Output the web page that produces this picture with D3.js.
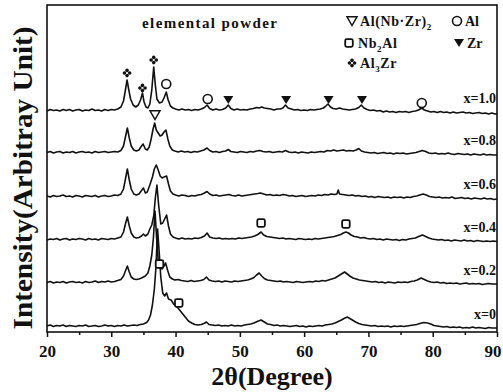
<!DOCTYPE html>
<html><head><meta charset="utf-8">
<script src="https://cdn.jsdelivr.net/npm/d3@7"></script>
<style>body{margin:0;background:#fff}svg{display:block}</style></head>
<body><svg id="c" width="503" height="392"></svg>
<script>
const xTicks=[20,30,40,50,60,70,80,90];
const xMinorTicks=[25,35,45,55,65,75,85];
const seriesLabels=["x=1.0","x=0.8","x=0.6","x=0.4","x=0.2","x=0"];
const seriesOffsets=[221,179,135,92,49,5];

const s10=[[20,0],[20.5,1.5],[21,0.5],[21.5,1],[22,0],[22.5,1.5],[23,0.5],[23.5,1.5],[24,0],[24.5,1],[25,1.5],[25.5,0],[26,1],[26.5,0.5],[27,2],[27.5,0.5],[28,1],[28.5,0],[29,1.5],[29.5,0.5],[30,1.5],[30.5,1],[31,2],[31.5,4],[31.9,10],[32.2,21],[32.45,31],[32.7,22],[33,12],[33.4,6],[33.8,4],[34.2,6],[34.55,11],[34.85,18],[35.1,9],[35.4,4],[35.7,3],[36,7],[36.3,21],[36.6,44],[36.85,26],[37.1,12],[37.5,8],[37.9,9],[38.2,13],[38.55,19],[38.85,11],[39.2,5],[39.6,3],[40,2],[40.5,1],[41,2],[41.5,1],[42,1.5],[42.5,0.5],[43,1.5],[43.5,1],[44,2],[44.5,3.5],[44.9,6],[45.3,2.5],[45.8,1],[46.3,2],[46.8,1],[47.3,1.5],[47.8,3],[48.2,6],[48.6,2.5],[49.1,1],[49.6,2],[50.1,1],[50.6,1.5],[51.1,1],[51.6,2],[52.1,2.5],[52.6,3.5],[53,3],[53.4,4],[53.8,3],[54.3,2.5],[54.8,2],[55.3,1],[55.8,2],[56.3,2],[56.7,3],[57.1,6],[57.5,3],[58,2],[58.5,1],[59,1.5],[59.5,0.5],[60,1],[60.5,0.5],[61,1.5],[61.5,1],[62,1.5],[62.5,2],[63,3],[63.3,4.5],[63.7,7],[64.1,4],[64.5,2.5],[65,2],[65.5,3],[66,2],[66.5,1.5],[67,1],[67.5,1.5],[68,2],[68.5,3.5],[68.9,6],[69.3,3],[69.8,1.5],[70.3,0.5],[70.8,1],[71.3,0],[71.8,0.5],[72.3,-1],[72.8,0],[73.3,-1],[73.8,-0.5],[74.3,-1.5],[74.8,-0.5],[75.3,-1],[75.8,-0.5],[76.3,-1.5],[76.8,-0.5],[77.3,0],[77.8,1],[78.3,3],[78.7,1],[79.2,0],[79.7,-1],[80.2,-0.5],[80.7,-1.5],[81.2,-0.5],[81.7,-1.5],[82.2,-1],[82.7,-2],[83.2,-1],[83.7,-2],[84.2,-1.5],[84.7,-1],[85.2,-2],[85.7,-1.5],[86.2,-2.5],[86.7,-2],[87.2,-1.5],[87.7,-2.5],[88.2,-2],[88.7,-3],[89.2,-2],[89.7,-3],[90,-2.5]];

const s08=[[20,0.5],[20.5,1.5],[21,0],[21.5,1],[22,1.5],[22.5,0],[23,1],[23.5,0.5],[24,1.5],[24.5,0],[25,1],[25.5,1.5],[26,0.5],[26.5,1],[27,0],[27.5,1.5],[28,0.5],[28.5,1],[29,1.5],[29.5,0.5],[30,1],[30.5,1.5],[31,1],[31.5,2.5],[31.9,7],[32.2,16],[32.5,25],[32.8,15],[33.1,7],[33.5,3],[33.9,2],[34.3,3],[34.6,6],[34.95,9],[35.3,4],[35.6,3],[35.9,6],[36.2,14],[36.5,24],[36.75,30],[37,23],[37.3,20],[37.6,17],[37.9,18],[38.2,21],[38.5,23],[38.8,14],[39.1,7],[39.5,3],[39.9,2],[40.4,1],[40.9,2],[41.4,1],[41.9,1.5],[42.4,0.5],[42.9,1.5],[43.4,1],[43.9,2],[44.4,3],[44.9,5],[45.3,2.5],[45.8,1],[46.3,1.5],[46.8,0.5],[47.3,1.5],[47.8,2],[48.2,3.5],[48.6,1.5],[49.1,1],[49.6,0.5],[50.1,1.5],[50.6,1],[51.1,0.5],[51.6,1.5],[52.1,1],[52.6,2],[53.1,2.5],[53.6,1.5],[54.1,1],[54.6,1.5],[55.1,0.5],[55.6,1],[56.1,1.5],[56.6,1],[57.1,2.5],[57.6,1],[58.1,0.5],[58.6,1],[59.1,0],[59.6,1],[60.1,0.5],[60.6,0],[61.1,1],[61.6,0.5],[62.1,1],[62.6,1.5],[63.1,1],[63.6,2.5],[64.1,2],[64.6,3],[65.1,2],[65.6,2.5],[66.1,3],[66.6,2],[67.1,2.5],[67.6,2],[68.1,3],[68.5,4.5],[68.9,2],[69.4,1],[69.9,0.5],[70.4,0],[70.9,0.5],[71.4,-0.5],[71.9,0],[72.4,0.5],[72.9,-0.5],[73.4,0],[73.9,-1],[74.4,0],[74.9,-0.5],[75.4,0],[75.9,-1],[76.4,-0.5],[76.9,0],[77.4,0.5],[77.9,1.5],[78.4,2.5],[78.9,1.5],[79.4,0],[79.9,-0.5],[80.4,0],[80.9,-1],[81.4,-0.5],[81.9,-1],[82.4,0],[82.9,-1],[83.4,-1.5],[83.9,-0.5],[84.4,-1],[84.9,-1.5],[85.4,-1],[85.9,-2],[86.4,-1],[86.9,-1.5],[87.4,-2],[87.9,-1],[88.4,-2],[88.9,-1.5],[89.4,-2],[90,-2]];

const s06=[[20,1],[20.5,0],[21,1.5],[21.5,0.5],[22,1],[22.5,2],[23,0.5],[23.5,1],[24,0],[24.5,1.5],[25,1],[25.5,0],[26,1.5],[26.5,1],[27,0.5],[27.5,1.5],[28,0],[28.5,1],[29,1.5],[29.5,0.5],[30,1],[30.5,2],[31,1.5],[31.5,3],[31.9,8],[32.2,18],[32.5,28],[32.8,17],[33.1,8],[33.5,3],[33.9,2],[34.3,3],[34.65,6],[35,9],[35.3,4],[35.6,5],[36,12],[36.4,20],[36.7,28],[37,32],[37.3,27],[37.6,21],[37.9,19],[38.2,20],[38.6,21],[38.9,13],[39.2,6],[39.6,3],[40,2],[40.5,1],[41,2],[41.5,1.5],[42,0.5],[42.5,1.5],[43,1],[43.5,2],[44,2.5],[44.5,4],[44.9,5.5],[45.3,3],[45.8,1.5],[46.3,2],[46.8,1],[47.3,1.5],[47.8,2],[48.3,2.5],[48.8,1.5],[49.3,1],[49.8,2],[50.3,1],[50.8,1.5],[51.3,2],[51.8,2.5],[52.3,3],[52.8,3.5],[53.2,4],[53.7,3],[54.2,2],[54.7,2.5],[55.2,1.5],[55.7,2],[56.2,1.5],[56.7,2.5],[57.2,2],[57.7,1],[58.2,1.5],[58.7,0.5],[59.2,1],[59.7,1.5],[60.2,0.5],[60.7,1],[61.2,1.5],[61.7,1],[62.2,2],[62.7,1.5],[63.2,2.5],[63.7,2],[64.2,3],[64.7,2.5],[65.1,3],[65.3,7],[65.5,3],[66,2.5],[66.5,2],[67,1.5],[67.5,2],[68,1],[68.5,1.5],[69,0.5],[69.5,1],[70,0],[70.5,0.5],[71,-0.5],[71.5,0.5],[72,0],[72.5,-0.5],[73,0],[73.5,-1],[74,0],[74.5,-0.5],[75,0],[75.5,-1],[76,0],[76.5,-0.5],[77,0.5],[77.5,1],[78,2],[78.5,3],[79,2],[79.5,0.5],[80,0],[80.5,-0.5],[81,0],[81.5,-1],[82,-0.5],[82.5,-1],[83,0],[83.5,-1.5],[84,-1],[84.5,-0.5],[85,-1.5],[85.5,-1],[86,-2],[86.5,-1],[87,-1.5],[87.5,-2],[88,-1],[88.5,-2],[89,-1.5],[89.5,-2.5],[90,-2]];

const s04=[[20,0],[20.5,1],[21,0.5],[21.5,1.5],[22,0],[22.5,1],[23,1.5],[23.5,0],[24,1],[24.5,0.5],[25,1.5],[25.5,1],[26,0],[26.5,1.5],[27,0.5],[27.5,1],[28,0],[28.5,1.5],[29,1],[29.5,0.5],[30,1.5],[30.5,1],[31,2],[31.5,3],[31.9,8],[32.2,16],[32.5,23],[32.8,14],[33.1,7],[33.5,3],[33.9,2],[34.3,2.5],[34.7,4],[35,6],[35.3,4],[35.7,6],[36,11],[36.3,15],[36.6,24],[36.85,42],[37.1,55],[37.35,36],[37.7,16],[38,17],[38.3,21],[38.6,25],[38.9,14],[39.2,6],[39.6,3],[40,2],[40.5,1],[41,2],[41.5,1],[42,1.5],[42.5,1],[43,2],[43.5,1.5],[44,2.5],[44.5,4],[44.9,7],[45.3,3],[45.8,2],[46.3,1.5],[46.8,2],[47.3,1],[47.8,1.5],[48.3,1],[48.8,1.5],[49.3,1],[49.8,2],[50.3,1.5],[50.8,2],[51.3,2.5],[51.8,3],[52.3,4],[52.8,5.5],[53.3,8],[53.7,5],[54.2,3.5],[54.7,3],[55.2,2.5],[55.7,2],[56.2,1.5],[56.7,2],[57.2,1],[57.7,1.5],[58.2,1],[58.7,0.5],[59.2,1.5],[59.7,1],[60.2,0.5],[60.7,1],[61.2,0.5],[61.7,1.5],[62.2,1],[62.7,1.5],[63.2,2],[63.7,2.5],[64.2,3],[64.7,3.5],[65.2,4.5],[65.7,5.5],[66.1,7],[66.5,8],[66.9,7],[67.3,5],[67.8,3.5],[68.3,3],[68.8,2],[69.3,2.5],[69.8,1.5],[70.3,1],[70.8,1.5],[71.3,0.5],[71.8,1],[72.3,0],[72.8,1],[73.3,0.5],[73.8,0],[74.3,0.5],[74.8,-0.5],[75.3,0.5],[75.8,0],[76.3,1],[76.8,1.5],[77.3,2],[77.8,3.5],[78.4,5],[78.9,3.5],[79.4,2],[79.9,1],[80.4,0.5],[80.9,0],[81.4,0.5],[81.9,-0.5],[82.4,0],[82.9,-1],[83.4,0],[83.9,-0.5],[84.4,-1],[84.9,0],[85.4,-1],[85.9,-0.5],[86.4,-1.5],[86.9,-0.5],[87.4,-1],[87.9,-1.5],[88.4,-1],[88.9,-1.5],[89.4,-1],[90,-1.5]];

const s02=[[20,0.5],[20.5,1.5],[21,0],[21.5,1],[22,0.5],[22.5,1.5],[23,0],[23.5,1],[24,1.5],[24.5,0.5],[25,1],[25.5,0],[26,1.5],[26.5,0.5],[27,1],[27.5,2],[28,0.5],[28.5,1.5],[29,1],[29.5,2],[30,1],[30.5,1.5],[31,2.5],[31.5,3.5],[31.9,7],[32.2,12],[32.5,17],[32.8,11],[33.1,6],[33.5,4],[33.9,3.5],[34.3,4],[34.7,5],[35,6],[35.3,7],[35.7,10],[36,17],[36.3,28],[36.55,45],[36.8,72],[37.05,45],[37.3,22],[37.6,15],[37.9,14],[38.2,17],[38.45,20],[38.8,12],[39.1,6],[39.5,4],[39.9,3],[40.4,3.5],[40.9,2.5],[41.4,2],[41.9,1.5],[42.4,2.5],[42.9,1.5],[43.4,2],[43.9,2.5],[44.4,3.5],[44.8,6],[45.2,3],[45.7,2],[46.2,1.5],[46.7,2],[47.2,1],[47.7,2],[48.2,1.5],[48.7,1],[49.2,2],[49.7,1.5],[50.2,2],[50.7,2.5],[51.2,3],[51.7,4],[52.2,5.5],[52.6,8],[53,10],[53.4,7],[53.8,4.5],[54.3,3],[54.8,2.5],[55.3,2],[55.8,1.5],[56.3,2],[56.8,1],[57.3,1.5],[57.8,1],[58.3,0.5],[58.8,1.5],[59.3,1],[59.8,0.5],[60.3,1],[60.8,1.5],[61.3,1],[61.8,2],[62.3,1.5],[62.8,2.5],[63.3,2],[63.8,3],[64.3,4],[64.8,5],[65.3,7],[65.8,9],[66.3,11],[66.7,9],[67.1,7],[67.6,5],[68.1,4],[68.6,3],[69.1,2.5],[69.6,2],[70.1,1.5],[70.6,1],[71.1,1.5],[71.6,0.5],[72.1,1],[72.6,0],[73.1,1],[73.6,0.5],[74.1,0],[74.6,1],[75.1,0.5],[75.6,1],[76.1,0.5],[76.6,1.5],[77.1,2],[77.6,3],[78.2,5],[78.7,3.5],[79.2,2],[79.7,1],[80.2,0.5],[80.7,1],[81.2,0],[81.7,0.5],[82.2,-0.5],[82.7,0],[83.2,-0.5],[83.7,0],[84.2,-1],[84.7,-0.5],[85.2,0],[85.7,-1],[86.2,-0.5],[86.7,-1],[87.2,-0.5],[87.7,-1.5],[88.2,-1],[88.7,-0.5],[89.2,-1],[90,-1]];

const s00=[[20,1],[20.5,2],[21,0.5],[21.5,1.5],[22,1],[22.5,2],[23,0.5],[23.5,1.5],[24,1],[24.5,0.5],[25,1.5],[25.5,1],[26,2],[26.5,0.5],[27,1],[27.5,1.5],[28,0.5],[28.5,1],[29,2],[29.5,1],[30,1.5],[30.5,0.5],[31,1.5],[31.5,1],[32,2],[32.5,1],[33,1.5],[33.5,2],[34,1.5],[34.5,2.5],[35,3],[35.5,4.5],[35.8,7],[36.1,12],[36.4,22],[36.7,38],[36.95,60],[37.2,98],[37.45,75],[37.7,50],[38,34],[38.3,31],[38.6,34],[38.9,28],[39.3,27],[39.7,23],[40.1,21],[40.5,18],[41,14],[41.5,10],[42,6],[42.5,4],[43,2.5],[43.5,2],[44,2.5],[44.4,3.5],[44.8,5],[45.2,2.5],[45.7,2],[46.2,1.5],[46.7,2],[47.2,1],[47.7,1.5],[48.2,1],[48.7,2],[49.2,1],[49.7,1.5],[50.2,1],[50.7,2],[51.2,2.5],[51.7,3],[52.2,4],[52.7,5.5],[53.3,7],[53.8,5],[54.3,3],[54.8,2.5],[55.3,1.5],[55.8,2],[56.3,1],[56.8,1.5],[57.3,1],[57.8,0.5],[58.3,1],[58.8,1.5],[59.3,0.5],[59.8,1],[60.3,0],[60.8,1],[61.3,0.5],[61.8,1],[62.3,1.5],[62.8,1],[63.3,2],[63.8,2.5],[64.3,3],[64.8,4],[65.3,5.5],[65.8,7],[66.2,8.5],[66.7,10],[67.1,8.5],[67.5,7],[68,5],[68.5,3.5],[69,2.5],[69.5,2],[70,1.5],[70.5,1],[71,1.5],[71.5,0.5],[72,1],[72.5,0.5],[73,1],[73.5,0],[74,1],[74.5,0.5],[75,1],[75.5,0.5],[76,1],[76.5,1.5],[77,2],[77.5,2.5],[78,3.5],[78.6,4.5],[79.2,4],[79.7,3],[80.2,1.5],[80.7,1],[81.2,0.5],[81.7,0],[82.2,0.5],[82.7,-0.5],[83.2,0],[83.7,-0.5],[84.2,0],[84.7,-1],[85.2,-0.5],[85.7,-1],[86.2,0],[86.7,-1],[87.2,-0.5],[87.7,-1],[88.2,-1.5],[88.7,-0.5],[89.2,-1],[90,-1]];

const seriesData=[s10,s08,s06,s04,s02,s00];

// phase markers: type, 2theta, absolute intensity
const markerTypes=["diamond","diamond","diamond","circle","circle","circle","triFill","triFill","triFill","triFill","triOpen","square","square","square","square"];
const markerTheta=[32.45,34.85,36.6,38.55,45.0,78.3,48.2,57.2,63.8,69.0,36.8,53.3,66.5,37.5,40.5];
const markerInt=[259,244,272,248,233,229,232,232,232,232,217,109,108,68,29];

const svg=d3.select("#c");
const x=d3.scaleLinear().domain([20,90]).range([47,497]);
const y=d3.scaleLinear().domain([0,327]).range([332,5]);
const serif='"Liberation Serif","Times New Roman",Times,serif';

// traces
const line=d3.line().x(d=>x(d[0])).y(d=>y(d[1]));
seriesData.forEach((s,k)=>{
  const off=seriesOffsets[k];
  svg.append("path").datum(s.map(d=>[d[0],d[1]+off]))
    .attr("d",line).attr("fill","none").attr("stroke","#111")
    .attr("stroke-width",1.6).attr("stroke-linejoin","round");
  svg.append("text").attr("x",496).attr("y",y(off)-8)
    .attr("text-anchor","end").attr("font-family",serif).attr("font-weight","bold")
    .attr("font-size",14).attr("fill","#111").text(seriesLabels[k]);
});

// axes
const gx=svg.append("g").attr("transform","translate(0,332)");
gx.call(d3.axisBottom(x).tickValues(xTicks).tickSize(5).tickPadding(8).tickFormat(d3.format("d")));
const gm=svg.append("g").attr("transform","translate(0,332)");
gm.call(d3.axisBottom(x).tickValues(xMinorTicks).tickSize(3).tickFormat(""));
[gx,gm].forEach(g=>{g.select(".domain").remove();g.selectAll("line").attr("stroke","#111").attr("stroke-width",1.5);});
gx.selectAll("text").attr("font-family",serif).attr("font-weight","bold").attr("font-size",17).attr("fill","#111");
gx.selectAll(".tick").filter(d=>d===90).select("text").attr("text-anchor","end").attr("dx",4);

// frame
svg.append("rect").attr("x",47).attr("y",5).attr("width",450).attr("height",327)
  .attr("fill","none").attr("stroke","#111").attr("stroke-width",1.6);

// markers
function drawMarker(g,type,cx,cy){
  if(type==="circle") g.append("circle").attr("cx",cx).attr("cy",cy).attr("r",4.5).attr("fill","#fff").attr("stroke","#111").attr("stroke-width",1.6);
  else if(type==="square") g.append("rect").attr("x",cx-3.8).attr("y",cy-3.8).attr("width",7.6).attr("height",7.6).attr("rx",1.5).attr("fill","#fff").attr("stroke","#111").attr("stroke-width",1.8);
  else if(type==="triOpen") g.append("path").attr("d",`M${cx-5},${cy-4.2}L${cx+5},${cy-4.2}L${cx},${cy+4.5}Z`).attr("fill","#fff").attr("stroke","#111").attr("stroke-width",1.5);
  else if(type==="triFill") g.append("path").attr("d",`M${cx-5},${cy-4}L${cx+5},${cy-4}L${cx},${cy+4}Z`).attr("fill","#111");
  else if(type==="diamond"){
    [[0,-2.6],[2.6,0],[0,2.6],[-2.6,0]].forEach(o=>g.append("circle").attr("cx",cx+o[0]).attr("cy",cy+o[1]).attr("r",1.8).attr("fill","#111"));
  }
}
const mg=svg.append("g");
markerTypes.forEach((t,i)=>drawMarker(mg,t,x(markerTheta[i]),y(markerInt[i])));

// legend
const lg=svg.append("g").attr("font-family",serif).attr("font-weight","bold").attr("font-size",14).attr("fill","#111");
drawMarker(lg,"triOpen",352,21);
let t=lg.append("text").attr("x",360).attr("y",26).attr("letter-spacing",0.6);
t.append("tspan").text("Al(Nb·Zr)");t.append("tspan").attr("font-size",9).attr("dy",4).text("2");
drawMarker(lg,"circle",457,21);
lg.append("text").attr("x",465).attr("y",26).text("Al");
drawMarker(lg,"square",349,43);
t=lg.append("text").attr("x",358).attr("y",48).attr("letter-spacing",0.6);
t.append("tspan").text("Nb");t.append("tspan").attr("font-size",9).attr("dy",4).text("2");t.append("tspan").attr("dy",-4).text("Al");
drawMarker(lg,"triFill",459,43);
lg.append("text").attr("x",467).attr("y",48).text("Zr");
drawMarker(lg,"diamond",352,63);
t=lg.append("text").attr("x",360).attr("y",68).attr("letter-spacing",0.6);
t.append("tspan").text("Al");t.append("tspan").attr("font-size",9).attr("dy",4).text("3");t.append("tspan").attr("dy",-4).text("Zr");

// title
svg.append("text").attr("x",142).attr("y",28).attr("font-family",serif).attr("font-weight","bold")
  .attr("font-size",15).attr("textLength",135).attr("lengthAdjust","spacing").attr("fill","#111").text("elemental powder");

// axis titles
svg.append("text").attr("x",272).attr("y",385).attr("text-anchor","middle").attr("font-family",serif)
  .attr("font-weight","bold").attr("font-size",26).attr("fill","#111").text("2θ(Degree)");
svg.append("text").attr("transform","translate(32,178) rotate(-90)").attr("text-anchor","middle")
  .attr("font-family",serif).attr("font-weight","bold").attr("font-size",27)
  .attr("textLength",303).attr("lengthAdjust","spacingAndGlyphs").attr("fill","#111").text("Intensity(Arbitray Unit)");
</script></body></html>
